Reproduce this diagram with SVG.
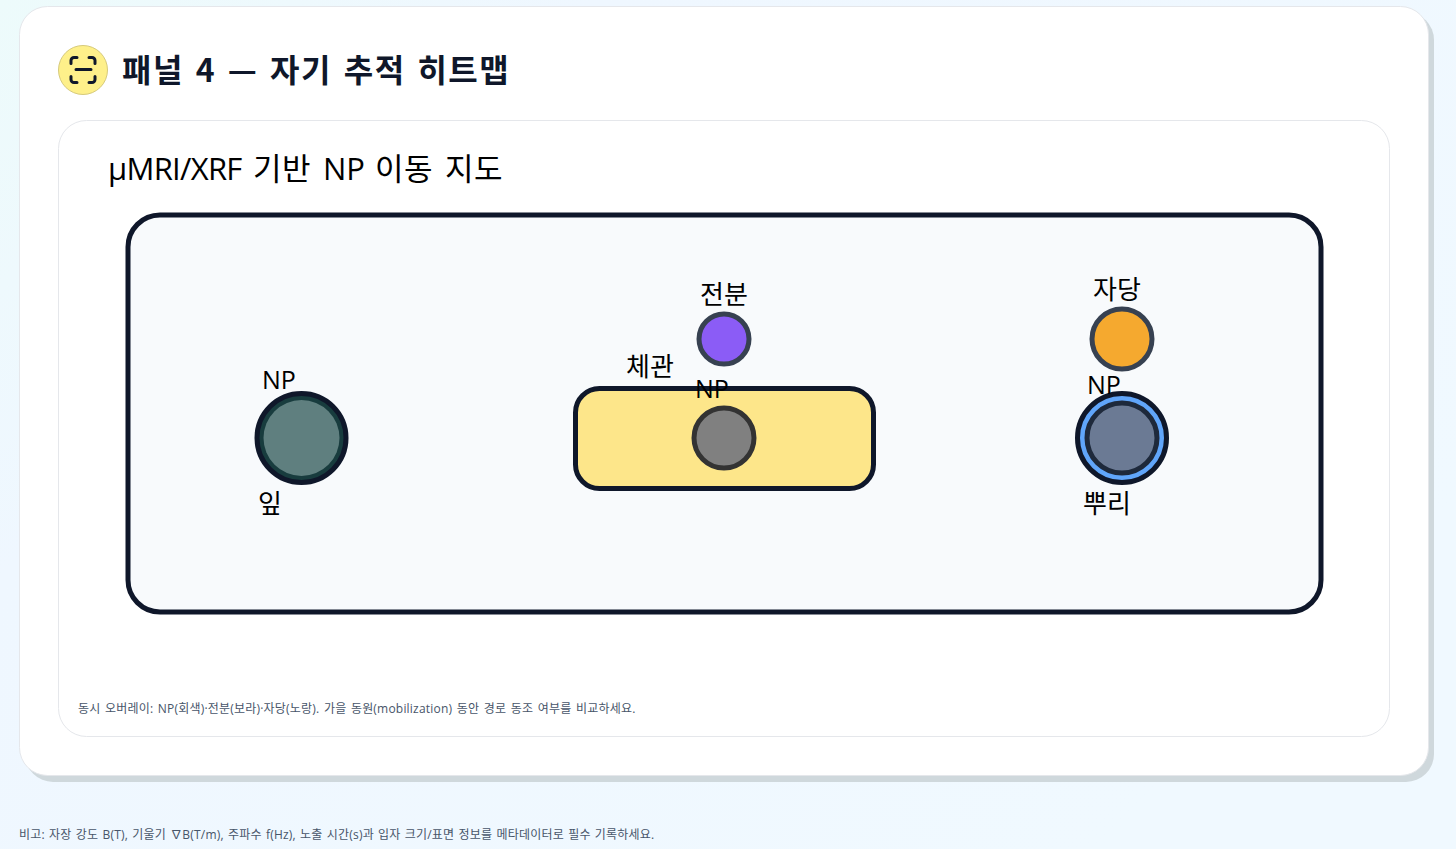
<svg xmlns="http://www.w3.org/2000/svg" width="1456" height="849" viewBox="0 0 1456 849">
<style>
text{font-family:"Open Sans","Noto Sans CJK KR",sans-serif;fill:#0f172a}
.l{font-size:25px;fill:#000}
.k{font-size:26px;fill:#000}
.s{font-size:12px;fill:#475569;letter-spacing:.2px;word-spacing:1.2px}
.o{stroke:#0f172a;stroke-width:5}
.d{stroke:#374151;stroke-width:5}
</style>
<defs><linearGradient id="bg" x1="0" y1="0" x2="1" y2="0.6"><stop offset="0" stop-color="#edfbfb"/><stop offset="0.3" stop-color="#eff7ff"/><stop offset="1" stop-color="#f0f9ff"/></linearGradient></defs>
<rect width="1456" height="849" fill="url(#bg)"/>
<g id="panel">
<rect x="25" y="12" width="1409" height="770" rx="28" fill="#cfd8dc"/>
<rect x="19.500" y="6.500" width="1409" height="769" rx="28" fill="#fff" stroke="#e5e7eb"/>
</g>
<g id="header">
<circle cx="83" cy="70" r="24.500" fill="#fef08a" stroke="#d6ca7c"/>
<g fill="none" stroke="#0f172a" stroke-width="3" stroke-linecap="round" stroke-linejoin="round"><path d="M71 63.500v-3a3 3 0 0 1 3-3h3M89 57.500h3a3 3 0 0 1 3 3v3M95 76.500v3a3 3 0 0 1-3 3h-3M77 82.500h-3a3 3 0 0 1-3-3v-3M76 69.500h15"/></g>
<text x="122" y="82" font-size="32" font-weight="700" style="font-family:'Noto Sans CJK KR',sans-serif;letter-spacing:1.500px;word-spacing:3px">패널 4 — 자기 추적 히트맵</text>
</g>
<g id="card">
<rect x="58.500" y="120.500" width="1331" height="616" rx="28" fill="#fff" stroke="#e5e7eb"/>
<text y="180" font-size="31" style="fill:#000"><tspan x="108" letter-spacing="-.7">µMRI/XRF</tspan><tspan x="253" letter-spacing=".6">기반</tspan><tspan x="323" letter-spacing="0">NP</tspan><tspan x="375" letter-spacing=".6">이동</tspan><tspan x="445" letter-spacing=".6">지도</tspan></text>
<text class="s" x="78" y="713">동시 오버레이: NP(회색)·전분(보라)·자당(노랑). 가을 동원(mobilization) 동안 경로 동조 여부를 비교하세요.</text>
</g>
<g id="plant-frame"><rect x="128" y="215" width="1193" height="397" rx="32" fill="#f8fafc" class="o"/></g>
<g id="leaf">
<circle cx="301.500" cy="438" r="44.500" fill="#183c3e" class="o"/>
<circle cx="301.500" cy="438" r="38" fill="#5f7f7f"/>
<text class="l" x="262" y="389">NP</text><text class="k" x="258" y="513">잎</text>
</g>
<g id="phloem">
<rect x="575.500" y="388.500" width="298" height="100" rx="24" fill="#fde68a" class="o"/>
<text class="k" x="626" y="376">체관</text>
<circle cx="724" cy="438" r="30" fill="#808080" stroke="#333" stroke-width="5"/>
<text class="l" x="695" y="398">NP</text>
</g>
<g id="starch"><circle cx="724" cy="339" r="25" fill="#8b5cf6" class="d"/><text class="k" x="700" y="304">전분</text></g>
<g id="sucrose"><circle cx="1122" cy="339" r="30" fill="#f5a92f" class="d"/><text class="k" x="1093" y="299">자당</text></g>
<g id="root">
<circle cx="1122" cy="438" r="44.500" fill="#60a5fa" class="o"/>
<circle cx="1122" cy="438" r="35" fill="#6b7a94" stroke="#1e293b" stroke-width="5"/>
<text class="l" x="1087" y="394">NP</text><text class="k" x="1083" y="513">뿌리</text>
</g>
<g id="connectors"/>
<text class="s" x="19" y="839" style="word-spacing:.9px">비고: 자장 강도 B(T), 기울기 ∇B(T/m), 주파수 f(Hz), 노출 시간(s)과 입자 크기/표면 정보를 메타데이터로 필수 기록하세요.</text>
</svg>
